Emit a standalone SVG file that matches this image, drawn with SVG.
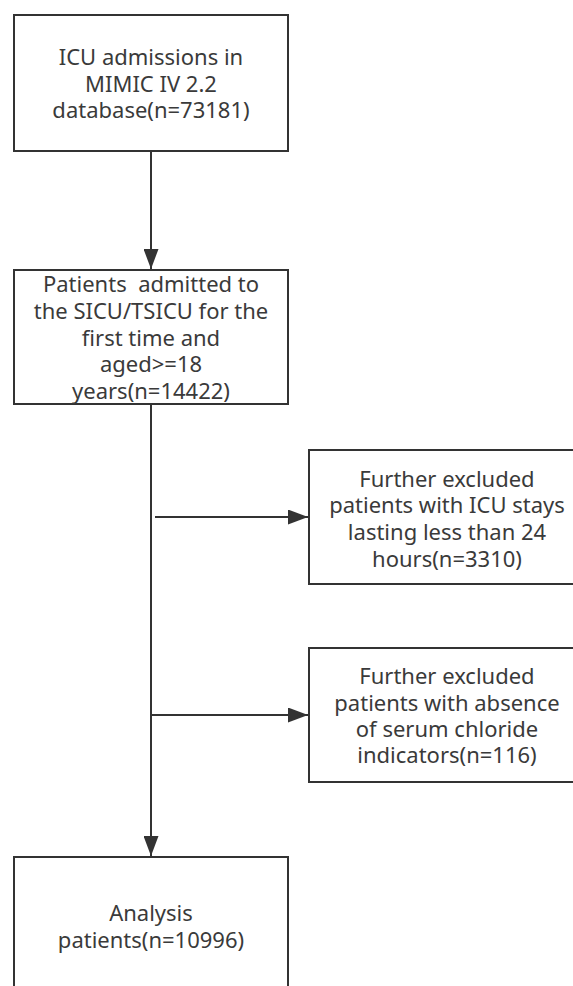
<svg xmlns="http://www.w3.org/2000/svg" width="573" height="986" viewBox="0 0 573 986">
<style>
.box{fill:#fff;stroke:#333;stroke-width:2}
.t{font-family:"Noto Sans","Open Sans","DejaVu Sans",sans-serif;font-size:22px;fill:#3a3a3a;text-anchor:middle}
.c{stroke:#333;stroke-width:2;fill:none}
</style>
<defs>
<marker id="ah" markerWidth="20" markerHeight="15" refX="20" refY="7.5" orient="auto" markerUnits="userSpaceOnUse">
<path d="M0,0 L20,7.5 L0,15 Z" fill="#333"/>
</marker>
</defs>
<rect width="573" height="986" fill="#fff"/>
<g id="connectors">
<line class="c" x1="151" y1="151" x2="151" y2="269" marker-end="url(#ah)"/>
<line class="c" x1="151" y1="404" x2="151" y2="856" marker-end="url(#ah)"/>
<line class="c" x1="155" y1="517" x2="308" y2="517" marker-end="url(#ah)"/>
<line class="c" x1="151" y1="715" x2="308" y2="715" marker-end="url(#ah)"/>
</g>
<g id="n1">
<rect class="box" x="14" y="15" width="274" height="136"/>
<text class="t" x="151" y="65">ICU admissions in</text>
<text class="t" x="151" y="92">MIMIC IV 2.2</text>
<text class="t" x="151" y="118">database(n=73181)</text>
</g>
<g id="n2">
<rect class="box" x="14" y="270" width="274" height="134"/>
<text class="t" x="151" y="292" xml:space="preserve">Patients  admitted to</text>
<text class="t" x="151" y="319">the SICU/TSICU for the</text>
<text class="t" x="151" y="346">first time and</text>
<text class="t" x="151" y="372">aged&gt;=18</text>
<text class="t" x="151" y="399">years(n=14422)</text>
</g>
<g id="n3">
<rect class="box" x="309" y="450" width="274" height="134"/>
<text class="t" x="447" y="487">Further excluded</text>
<text class="t" x="447" y="513">patients with ICU stays</text>
<text class="t" x="447" y="540">lasting less than 24</text>
<text class="t" x="447" y="567">hours(n=3310)</text>
</g>
<g id="n4">
<rect class="box" x="309" y="648" width="274" height="134"/>
<text class="t" x="447" y="684">Further excluded</text>
<text class="t" x="447" y="711">patients with absence</text>
<text class="t" x="447" y="737">of serum chloride</text>
<text class="t" x="447" y="763">indicators(n=116)</text>
</g>
<g id="n5">
<rect class="box" x="14" y="857" width="274" height="140"/>
<text class="t" x="151" y="921">Analysis</text>
<text class="t" x="151" y="948">patients(n=10996)</text>
</g>
</svg>
